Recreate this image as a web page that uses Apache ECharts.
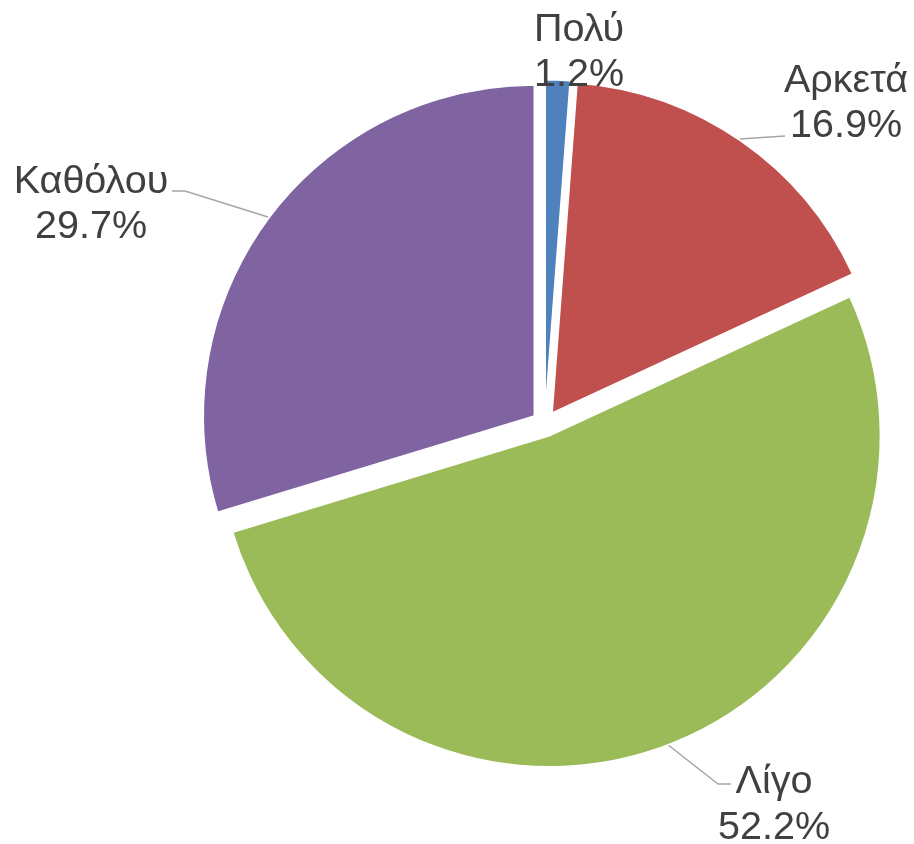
<!DOCTYPE html>
<html>
<head>
<meta charset="utf-8">
<script src="https://cdn.jsdelivr.net/npm/echarts@6/dist/echarts.min.js"></script>
<style>html,body{margin:0;padding:0;background:#fff;}#c{width:914px;height:844px;}</style>
</head>
<body>
<div id="c"></div>
<script>
const categories = ['Πολύ', 'Αρκετά', 'Λίγο', 'Καθόλου'];
const values = [1.2, 16.9, 52.2, 29.7];
const colors = ['#4F81BD', '#C0504D', '#9BBB59', '#8064A2'];

// label centre and leader line (global px), per slice
const labelPlacement = [
  { x: 579, y: 52.5, line: null },
  { x: 846, y: 103.5, line: [[740, 139], [762, 137.5], [785, 136]] },
  { x: 774, y: 805, line: [[667, 744], [718, 784], [731, 784]] },
  { x: 91, y: 204.5, line: [[268, 217], [185, 191], [172, 191]] }
];
const OFFSET = 13;
const total = values.reduce((a, b) => a + b, 0);
// mid angle of each slice (clockwise from 12 o'clock) to undo the explode shift
const midAngles = [];
{
  let acc = 0;
  values.forEach(v => { midAngles.push((acc + v / 2) / total * 2 * Math.PI); acc += v; });
}

const chart = echarts.init(document.getElementById('c'));
chart.setOption({
  animation: false,
  backgroundColor: '#ffffff',
  series: [{
    type: 'pie',
    center: ['59.6%', '50.2%'],
    radius: 331,
    startAngle: 90,
    clockwise: true,
    selectedMode: 'multiple',
    selectedOffset: OFFSET,
    percentPrecision: 1,
    avoidLabelOverlap: false,
    itemStyle: { borderColor: '#ffffff', borderWidth: 1.5 },
    label: {
      show: true,
      formatter: '{b}\n{d}%',
      fontFamily: '"Liberation Sans", Arial, sans-serif',
      fontSize: 39.5,
      lineHeight: 45.5,
      color: '#404040',
      align: 'center'
    },
    labelLine: { show: true, lineStyle: { color: '#A6A6A6', width: 1.5 } },
    labelLayout: function (p) {
      const lp = labelPlacement[p.dataIndex];
      const r = p.labelRect;
      const a = midAngles[p.dataIndex];
      const ox = OFFSET * Math.sin(a), oy = -OFFSET * Math.cos(a);
      let anchorX = r.x + r.width / 2;
      if (p.align === 'right') anchorX = r.x + r.width;
      else if (p.align === 'left') anchorX = r.x;
      const o = {
        align: 'center',
        dx: lp.x - anchorX - ox,
        dy: lp.y - (r.y + r.height / 2) - oy
      };
      if (lp.line) {
        o.labelLinePoints = lp.line.map(pt => [pt[0] - ox, pt[1] - oy]);
      }
      return o;
    },
    data: categories.map((c, i) => ({
      name: c,
      value: values[i],
      selected: true,
      itemStyle: { color: colors[i] },
      labelLine: { show: i !== 0 }
    }))
  }]
});
</script>
</body>
</html>
